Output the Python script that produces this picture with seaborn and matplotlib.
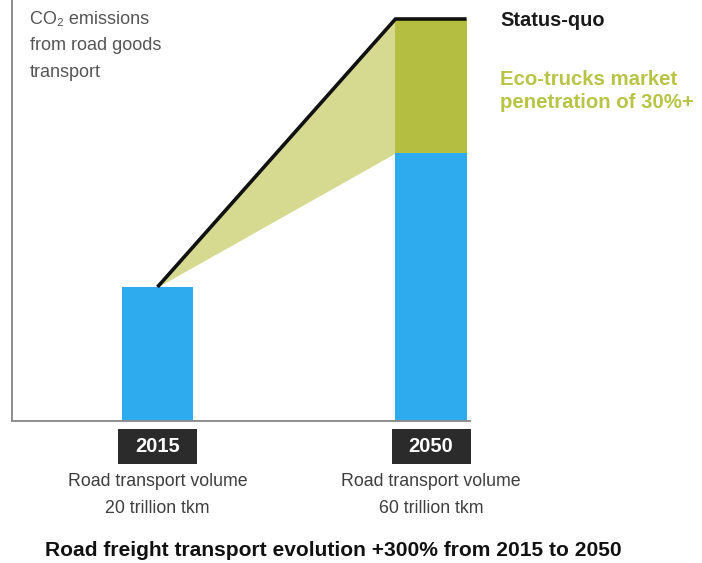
import matplotlib
matplotlib.use("Agg")
import matplotlib.pyplot as plt
from matplotlib.patches import Rectangle
from matplotlib.transforms import blended_transform_factory
import seaborn as sns

# Emissions index (2015 = 100) and freight volumes
years = ["2015", "2050"]
emissions_status_quo = [100, 300]
emissions_eco_trucks = [100, 200]
volume_trillion_tkm = [20, 60]

BLUE = "#2eabee"
OLIVE = "#b4be40"
WEDGE = "#d6da90"
ECO_TEXT = "#b8c445"
GREY_TEXT = "#3d3d3d"

sns.set_theme(style="white")
plt.rcParams["font.family"] = ["Liberation Sans", "DejaVu Sans"]

W, H = 702, 563
fig = plt.figure(figsize=(W / 100, H / 100), dpi=100)
fig.patch.set_facecolor("white")

def fx(px):
    return px / W

def fy(py):
    return 1 - py / H

ax = fig.add_axes([fx(12), fy(421), fx(470) - fx(12), 421 / H])
bar_w = 0.26

# Blue bars: emissions with eco-truck penetration
sns.barplot(x=years, y=emissions_eco_trucks, color=BLUE, saturation=1,
            width=bar_w, linewidth=0, ax=ax, zorder=2)

# Olive excess on top: status-quo minus eco scenario
xs = list(range(len(years)))
excess = [s - e for s, e in zip(emissions_status_quo, emissions_eco_trucks)]
ax.bar(xs, excess, bottom=emissions_eco_trucks, width=bar_w, color=OLIVE,
       linewidth=0, zorder=2)

# Wedge between the two growth paths
x_start = xs[0]
x_edge = xs[1] - bar_w / 2
ax.fill_between([x_start, x_edge],
                [emissions_status_quo[0], emissions_status_quo[1]],
                [emissions_eco_trucks[0], emissions_eco_trucks[1]],
                color=WEDGE, linewidth=0, zorder=1)

# Status-quo path
ax.plot([x_start, x_edge, xs[1] + bar_w / 2],
        [emissions_status_quo[0], emissions_status_quo[1], emissions_status_quo[1]],
        color="#111111", lw=2.6, solid_capstyle="butt", solid_joinstyle="miter", zorder=3)

# Axis scaling: 273.5 px between categories, 134 px for 100 index points
ax.set_xlim(-145.5 / 273.5, 1 + 39 / 273.5)
ax.set_ylim(0, 421 / 134 * 100)
ax.set_xlabel("")
ax.set_ylabel("")
ax.set_xticks([])
ax.set_yticks([])
ax.set_facecolor("none")
for side in ("top", "right"):
    ax.spines[side].set_visible(False)
for side in ("left", "bottom"):
    ax.spines[side].set_color("#8d8d8d")
    ax.spines[side].set_linewidth(1.4)

# Year boxes and volume labels under each bar
trans = blended_transform_factory(ax.transData, fig.transFigure)
box_w = 79 / 273.5
for i, (yr, vol) in enumerate(zip(years, volume_trillion_tkm)):
    ax.add_patch(Rectangle((i - box_w / 2, fy(464)), box_w, 35 / H,
                           transform=trans, facecolor="#2b2b2b",
                           edgecolor="none", clip_on=False))
    ax.text(i, fy(446.5), yr, transform=trans, ha="center", va="center",
            color="white", fontsize=14.5, fontweight="bold")
    ax.text(i, fy(473), f"Road transport volume\n{vol} trillion tkm",
            transform=trans, ha="center", va="top", color=GREY_TEXT,
            fontsize=12.8, linespacing=1.75)

# Axis caption
fig.text(fx(30), fy(11), "CO\u2082 emissions\nfrom road goods\ntransport",
         ha="left", va="top", color="#555555", fontsize=13, linespacing=1.72)

# Scenario labels
fig.text(fx(500), fy(20), "Status-quo", ha="left", va="center",
         color="#1a1a1a", fontsize=14.4, fontweight="bold")
fig.text(fx(500), fy(91), "Eco-trucks market\npenetration of 30%+",
         ha="left", va="center", color=ECO_TEXT, fontsize=14.7,
         fontweight="bold", linespacing=1.25)

# Bottom headline
fig.text(fx(333), fy(550), "Road freight transport evolution +300% from 2015 to 2050",
         ha="center", va="center", color="#111111", fontsize=15.1,
         fontweight="bold")

fig.savefig("out.png", dpi=100, facecolor="white")
